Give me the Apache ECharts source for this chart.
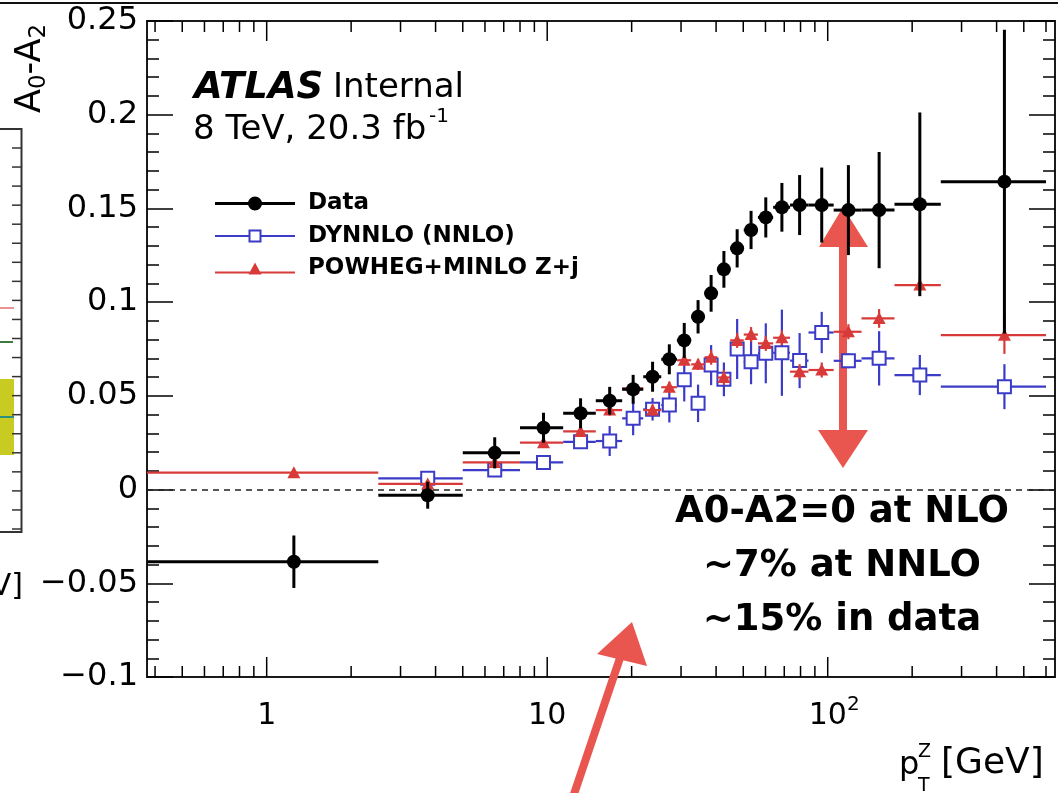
<!DOCTYPE html>
<html>
<head>
<meta charset="utf-8">
<script src="https://cdn.jsdelivr.net/npm/echarts@6/dist/echarts.min.js"></script>
<style>
html,body{margin:0;padding:0;background:#fff;}
#c{width:1058px;height:793px;}
</style>
</head>
<body>
<div id="c"></div>
<script>
// ---- binning (pT^Z in GeV) ----
const binLow    = [0, 2.5, 5, 8, 11.4, 14.9, 18.5, 22, 25.5, 29, 32.6, 36.4, 40.4, 44.9, 50.2, 56.4, 63.9, 73.4, 85.4, 105, 132, 173, 253];
const binHigh   = [2.5, 5, 8, 11.4, 14.9, 18.5, 22, 25.5, 29, 32.6, 36.4, 40.4, 44.9, 50.2, 56.4, 63.9, 73.4, 85.4, 105, 132, 173, 253, 600];
const binCenter = [1.25, 3.75, 6.5, 9.7, 13.15, 16.7, 20.25, 23.75, 27.25, 30.8, 34.5, 38.4, 42.65, 47.55, 53.3, 60.15, 68.65, 79.4, 95.2, 118.5, 152.5, 213, 426.5];

// ---- A0 - A2 values ----
const dataVal = [-0.0385, -0.003, 0.0196, 0.033, 0.0407, 0.0474, 0.0535, 0.0602, 0.0695, 0.0796, 0.0922, 0.1047, 0.1175, 0.1287, 0.1385, 0.1452, 0.1506, 0.1518, 0.1518, 0.1491, 0.1491, 0.1522, 0.1643];
const dataErr = [0.014, 0.0072, 0.0083, 0.008, 0.008, 0.0074, 0.0077, 0.008, 0.008, 0.0093, 0.0089, 0.0098, 0.0098, 0.0102, 0.0102, 0.0107, 0.013, 0.016, 0.02, 0.024, 0.031, 0.049, 0.081];

const dynnloVal = [null, 0.006, 0.0104, 0.0145, 0.0255, 0.0259, 0.038, 0.0428, 0.0451, 0.0586, 0.046, 0.0664, 0.0588, 0.075, 0.0682, 0.0727, 0.073, 0.0688, 0.0838, 0.0687, 0.070, 0.0611, 0.0549];
const dynnloErr = [null, 0.002, 0.002, 0.002, 0.003, 0.008, 0.009, 0.006, 0.0093, 0.0116, 0.010, 0.0107, 0.009, 0.016, 0.012, 0.016, 0.023, 0.0147, 0.011, 0.004, 0.0145, 0.0107, 0.012];

const powhegVal = [0.009, 0.003, 0.0145, 0.025, 0.031, 0.0424, 0.054, 0.0424, 0.0546, 0.069, 0.0668, 0.0706, 0.0598, 0.0796, 0.0827, 0.078, 0.081, 0.0629, 0.0638, 0.0842, 0.0913, 0.1091, 0.0824];
const powhegErr = [0.001, 0.002, 0.002, 0.002, 0.002, 0.003, 0.003, 0.003, 0.003, 0.003, 0.003, 0.004, 0.004, 0.004, 0.004, 0.004, 0.004, 0.004, 0.004, 0.004, 0.005, 0.005, 0.010];

// ---- axes ----
const xMajorTicks = [1, 10, 100];
const xMinorTicks = [0.4, 0.5, 0.6, 0.7, 0.8, 0.9, 2, 3, 4, 5, 6, 7, 8, 9, 20, 30, 40, 50, 60, 70, 80, 90, 200, 300, 400, 500, 600];
const xTickLabels = {1: '{n|1}', 10: '{n|10}', 100: '{m|10}{e|2}'};
const X_MIN = 0.3744, X_MAX = 646;
const Y_MIN = -0.1, Y_MAX = 0.25, Y_STEP = 0.05;

const seriesNames = ['Data', 'DYNNLO (NNLO)', 'POWHEG+MINLO Z+j'];
const BLACK = '#000000', BLUE = '#3b3bc8', RED = '#d83a3a', ARROW = '#e8564f';
const FONT = 'DejaVu Sans';

function rows(vals, errs) {
  const out = [];
  binCenter.forEach((c, i) => {
    if (vals[i] !== null) out.push([c, vals[i], errs[i], binLow[i], binHigh[i]]);
  });
  return out;
}

function errRender(kind, color, lw) {
  return function (params, api) {
    const c = api.value(0), v = api.value(1), e = api.value(2);
    const lo = Math.max(api.value(3), X_MIN), hi = Math.min(api.value(4), X_MAX);
    const p = api.coord([c, v]);
    const pl = api.coord([lo, v]), ph = api.coord([hi, v]);
    const pt = api.coord([c, v + e]), pb = api.coord([c, v - e]);
    const s = kind === 'circle' ? 7 : 6.5;
    const st = {stroke: color, lineWidth: lw};
    const ch = [
      {type: 'line', shape: {x1: pl[0], y1: p[1], x2: ph[0], y2: p[1]}, style: st},
      {type: 'line', shape: {x1: p[0], y1: pt[1], x2: p[0], y2: pb[1]}, style: st}
    ];
    if (kind === 'circle') {
      ch.push({type: 'circle', shape: {cx: p[0], cy: p[1], r: s}, style: {fill: color}});
    } else if (kind === 'square') {
      ch.push({type: 'rect', shape: {x: p[0] - s, y: p[1] - s, width: 2 * s, height: 2 * s}, style: {fill: '#fff', stroke: color, lineWidth: 2}});
    } else {
      ch.push({type: 'polygon', shape: {points: [[p[0] - s, p[1] + 5.5], [p[0] + s, p[1] + 5.5], [p[0], p[1] - 6.5]]}, style: {fill: color}});
    }
    return {type: 'group', children: ch};
  };
}

function tickRender(params, api) {
  const v = api.value(0), major = api.value(1);
  const b = api.coord([v, Y_MIN]), t = api.coord([v, Y_MAX]);
  const L = major ? 20 : 11;
  const st = {stroke: '#000', lineWidth: 1.5};
  return {type: 'group', children: [
    {type: 'line', shape: {x1: b[0], y1: b[1], x2: b[0], y2: b[1] - L}, style: st},
    {type: 'line', shape: {x1: t[0], y1: t[1], x2: t[0], y2: t[1] + L}, style: st}
  ]};
}

const tickData = xMajorTicks.map(v => [v, 1]).concat(xMinorTicks.map(v => [v, 0]));

const iconData = 'path://M0,6 L80,6 L80,9 L0,9 Z M33,7.5 A7,7 0 1,1 47,7.5 A7,7 0 1,1 33,7.5 Z';
const iconDyn = 'path://M0,6.5 L33.5,6.5 L33.5,8.5 L0,8.5 Z M46.5,6.5 L80,6.5 L80,8.5 L46.5,8.5 Z M33.5,1 L46.5,1 L46.5,14 L33.5,14 Z M35.5,3 L35.5,12 L44.5,12 L44.5,3 Z';
const iconPow = 'path://M0,10 L80,10 L80,12 L0,12 Z M33.5,13 L40,1 L46.5,13 Z';

function yLabel(v) {
  const r = Math.round(v * 100) / 100;
  if (r === 0) return '0';
  return r < 0 ? '\u2212' + String(-r) : String(r);
}

function yAxisCfg(pos, showLabel) {
  return {
    type: 'value', position: pos, min: Y_MIN, max: Y_MAX, interval: Y_STEP,
    axisLine: {show: false},
    axisTick: {show: true, inside: true, length: 26, lineStyle: {color: '#000', width: 1.5}},
    minorTick: {show: true, splitNumber: 5, length: 12, lineStyle: {color: '#000', width: 1.5}},
    splitLine: {show: false}, minorSplitLine: {show: false},
    axisLabel: {show: showLabel, fontFamily: FONT, fontSize: 32, color: '#000', margin: 9, formatter: yLabel}
  };
}

const chart = echarts.init(document.getElementById('c'), null, {renderer: 'canvas'});
const option = {
  animation: false,
  backgroundColor: '#fff',
  textStyle: {fontFamily: FONT},
  grid: {left: 147, right: 3, top: 21, bottom: 116, show: true, borderColor: '#1a1a1a', borderWidth: 2, backgroundColor: '#fff'},
  xAxis: {
    type: 'log', logBase: 10, min: X_MIN, max: X_MAX,
    axisLine: {show: false}, axisTick: {show: false}, splitLine: {show: false},
    axisLabel: {
      show: true, margin: 19, color: '#000',
      showMinLabel: false, showMaxLabel: false,
      formatter: function (v) {
        const l = Math.log10(v);
        if (Math.abs(l - Math.round(l)) > 1e-6) return '';
        return xTickLabels[Math.round(Math.pow(10, Math.round(l)))] || '';
      },
      rich: {
        n: {fontFamily: FONT, fontSize: 30, lineHeight: 40, color: '#000'},
        m: {fontFamily: FONT, fontSize: 30, lineHeight: 40, color: '#000', padding: [0, 0, 0, 13]},
        e: {fontFamily: FONT, fontSize: 20, lineHeight: 20, color: '#000', padding: [0, 0, 22, 0]}
      }
    }
  },
  yAxis: [yAxisCfg('left', true), yAxisCfg('right', false)],
  legend: {
    show: true, orient: 'vertical', left: 210, top: 187, itemWidth: 80, itemHeight: 16, itemGap: 9.5,
    selectedMode: false,
    data: [
      {name: seriesNames[0], icon: iconData},
      {name: seriesNames[1], icon: iconDyn},
      {name: seriesNames[2], icon: iconPow}
    ],
    textStyle: {fontFamily: FONT, fontWeight: 'bold', fontSize: 23, color: '#000', padding: [0, 0, 0, 8]}
  },
  series: [
    {
      type: 'custom', name: 'ticks', silent: true, clip: false, z: 6,
      data: tickData, renderItem: tickRender, encode: {x: 0, y: 1}
    },
    {
      type: 'custom', name: seriesNames[1], clip: true, z: 3,
      itemStyle: {color: BLUE},
      data: rows(dynnloVal, dynnloErr), renderItem: errRender('square', BLUE, 2.2),
      encode: {x: 0, y: 1},
      markLine: {
        silent: true, symbol: ['none', 'none'], label: {show: false},
        lineStyle: {type: [6, 5], color: '#222', width: 1.5},
        data: [{yAxis: 0}]
      }
    },
    {
      type: 'custom', name: seriesNames[2], clip: true, z: 4,
      itemStyle: {color: RED},
      data: rows(powhegVal, powhegErr), renderItem: errRender('triangle', RED, 2.2),
      encode: {x: 0, y: 1}
    },
    {
      type: 'custom', name: seriesNames[0], clip: true, z: 5,
      itemStyle: {color: BLACK},
      data: rows(dataVal, dataErr), renderItem: errRender('circle', BLACK, 3),
      encode: {x: 0, y: 1}
    }
  ],
  graphic: [
    // slide title underline at the very top
    {type: 'rect', z: 100, shape: {x: 0, y: 2, width: 1058, height: 2}, style: {fill: '#111'}},
    // neighbouring panel fragment on the far left
    {type: 'group', z: 100, children: [
      {type: 'rect', shape: {x: 0, y: 379, width: 14, height: 76}, style: {fill: '#c8cb22'}},
      {type: 'line', shape: {x1: 0, y1: 417, x2: 14, y2: 417}, style: {stroke: '#2f8f7f', lineWidth: 2}},
      {type: 'line', shape: {x1: 0, y1: 342, x2: 13, y2: 342}, style: {stroke: '#3d7a3d', lineWidth: 2}},
      {type: 'line', shape: {x1: 0, y1: 308, x2: 14, y2: 308}, style: {stroke: '#e07070', lineWidth: 1.5}},
      {type: 'polyline', shape: {points: [[0, 129], [21.5, 129], [21.5, 532], [0, 532]]}, style: {stroke: '#333', lineWidth: 2, fill: null}},
      {type: 'text', x: 23, y: 587, style: {text: 'eV]', font: '30px "DejaVu Sans"', fill: '#000', align: 'right', verticalAlign: 'middle'}}
    ].concat(Array.from({length: 21}, (_, k) => ({
      type: 'line', shape: {x1: 12, y1: 148 + k * 19.05, x2: 21.5, y2: 148 + k * 19.05}, style: {stroke: '#333', lineWidth: 1.5}
    })))},
    // y-axis title A0-A2
    {type: 'text', z: 100, x: 31, y: 113, rotation: Math.PI / 2,
      style: {text: '{a|A}{s|0}{a|-A}{s|2}', align: 'left', verticalAlign: 'middle',
        rich: {a: {fontFamily: FONT, fontSize: 35, fill: '#000'}, s: {fontFamily: FONT, fontSize: 23, fill: '#000', padding: [16, 0, 0, 0]}}}},
    // x-axis title p_T^Z [GeV]
    {type: 'text', z: 100, x: 899, y: 766, style: {text: 'p', font: '32px "DejaVu Sans"', fill: '#000', align: 'left', verticalAlign: 'middle'}},
    {type: 'text', z: 100, x: 918, y: 752, style: {text: 'Z', font: '19px "DejaVu Sans"', fill: '#000', align: 'left', verticalAlign: 'middle'}},
    {type: 'text', z: 100, x: 918, y: 786, style: {text: 'T', font: '19px "DejaVu Sans"', fill: '#000', align: 'left', verticalAlign: 'middle'}},
    {type: 'text', z: 100, x: 941, y: 764, style: {text: '[GeV]', font: '36px "DejaVu Sans"', fill: '#000', align: 'left', verticalAlign: 'middle'}},
    // ATLAS label
    {type: 'text', z: 100, x: 194, y: 88, style: {text: 'ATLAS', font: 'italic bold 37px "DejaVu Sans"', fill: '#000', align: 'left', verticalAlign: 'middle'}},
    {type: 'text', z: 100, x: 333, y: 88, style: {text: 'Internal', font: '34px "DejaVu Sans"', fill: '#000', align: 'left', verticalAlign: 'middle'}},
    {type: 'text', z: 100, x: 193, y: 130, style: {text: '8 TeV, 20.3 fb', font: '34px "DejaVu Sans"', fill: '#000', align: 'left', verticalAlign: 'middle'}},
    {type: 'text', z: 100, x: 429, y: 117, style: {text: '-1', font: '20px "DejaVu Sans"', fill: '#000', align: 'left', verticalAlign: 'middle'}},
    // annotation text
    {type: 'text', z: 100, x: 842, y: 512, style: {text: 'A0-A2=0 at NLO', font: 'bold 37px "DejaVu Sans"', fill: '#000', align: 'center', verticalAlign: 'middle'}},
    {type: 'text', z: 100, x: 842, y: 566, style: {text: '~7% at NNLO', font: 'bold 37px "DejaVu Sans"', fill: '#000', align: 'center', verticalAlign: 'middle'}},
    {type: 'text', z: 100, x: 842, y: 620, style: {text: '~15% in data', font: 'bold 37px "DejaVu Sans"', fill: '#000', align: 'center', verticalAlign: 'middle'}},
    // red double arrow
    {type: 'group', z: 101, children: [
      {type: 'rect', shape: {x: 839, y: 244, width: 8, height: 188}, style: {fill: ARROW}},
      {type: 'polygon', shape: {points: [[843, 207], [819, 247], [868, 247]]}, style: {fill: ARROW}},
      {type: 'polygon', shape: {points: [[843, 468], [818, 430], [868, 430]]}, style: {fill: ARROW}}
    ]},
    // red diagonal arrow
    {type: 'group', z: 101, children: [
      {type: 'line', shape: {x1: 621, y1: 655, x2: 572, y2: 800}, style: {stroke: ARROW, lineWidth: 8}},
      {type: 'polygon', shape: {points: [[632, 622], [597, 654], [647, 666]]}, style: {fill: ARROW}}
    ]}
  ]
};
chart.setOption(option);
</script>
</body>
</html>
